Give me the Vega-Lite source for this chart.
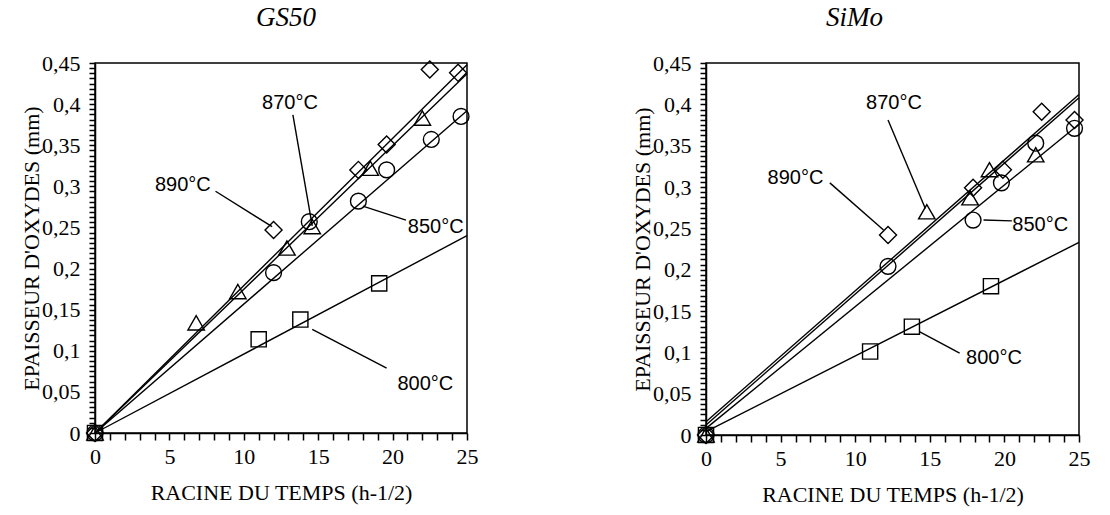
{
  "$schema": "https://vega.github.io/schema/vega-lite/v6.json",
  "background": "white",
  "padding": {"left": 19, "top": 3, "right": 5, "bottom": 5},
  "spacing": 151,
  "datasets": {
    "points": [
      {"panel": "GS50", "temp": "890°C", "x": 0, "y": 0},
      {"panel": "GS50", "temp": "890°C", "x": 12.0, "y": 0.247},
      {"panel": "GS50", "temp": "890°C", "x": 17.7, "y": 0.32},
      {"panel": "GS50", "temp": "890°C", "x": 19.6, "y": 0.351},
      {"panel": "GS50", "temp": "890°C", "x": 22.5, "y": 0.442},
      {"panel": "GS50", "temp": "890°C", "x": 24.4, "y": 0.438},
      {"panel": "GS50", "temp": "870°C", "x": 0, "y": 0},
      {"panel": "GS50", "temp": "870°C", "x": 6.8, "y": 0.134},
      {"panel": "GS50", "temp": "870°C", "x": 9.6, "y": 0.172},
      {"panel": "GS50", "temp": "870°C", "x": 12.9, "y": 0.225},
      {"panel": "GS50", "temp": "870°C", "x": 14.6, "y": 0.251},
      {"panel": "GS50", "temp": "870°C", "x": 18.5, "y": 0.322},
      {"panel": "GS50", "temp": "870°C", "x": 22.0, "y": 0.383},
      {"panel": "GS50", "temp": "850°C", "x": 0, "y": 0},
      {"panel": "GS50", "temp": "850°C", "x": 12.0, "y": 0.195},
      {"panel": "GS50", "temp": "850°C", "x": 14.4, "y": 0.257},
      {"panel": "GS50", "temp": "850°C", "x": 17.7, "y": 0.282},
      {"panel": "GS50", "temp": "850°C", "x": 19.6, "y": 0.32},
      {"panel": "GS50", "temp": "850°C", "x": 22.6, "y": 0.357},
      {"panel": "GS50", "temp": "850°C", "x": 24.6, "y": 0.385},
      {"panel": "GS50", "temp": "800°C", "x": 0, "y": 0},
      {"panel": "GS50", "temp": "800°C", "x": 11.0, "y": 0.114},
      {"panel": "GS50", "temp": "800°C", "x": 13.8, "y": 0.138},
      {"panel": "GS50", "temp": "800°C", "x": 19.1, "y": 0.182},
      {"panel": "SiMo", "temp": "890°C", "x": 0, "y": 0},
      {"panel": "SiMo", "temp": "890°C", "x": 12.2, "y": 0.242},
      {"panel": "SiMo", "temp": "890°C", "x": 17.9, "y": 0.299},
      {"panel": "SiMo", "temp": "890°C", "x": 19.9, "y": 0.321},
      {"panel": "SiMo", "temp": "890°C", "x": 22.5, "y": 0.391},
      {"panel": "SiMo", "temp": "890°C", "x": 24.7, "y": 0.381},
      {"panel": "SiMo", "temp": "870°C", "x": 0, "y": 0},
      {"panel": "SiMo", "temp": "870°C", "x": 14.8, "y": 0.27},
      {"panel": "SiMo", "temp": "870°C", "x": 17.7, "y": 0.287},
      {"panel": "SiMo", "temp": "870°C", "x": 19.0, "y": 0.321},
      {"panel": "SiMo", "temp": "870°C", "x": 22.1, "y": 0.339},
      {"panel": "SiMo", "temp": "850°C", "x": 0, "y": 0},
      {"panel": "SiMo", "temp": "850°C", "x": 12.2, "y": 0.204},
      {"panel": "SiMo", "temp": "850°C", "x": 17.9, "y": 0.26},
      {"panel": "SiMo", "temp": "850°C", "x": 19.8, "y": 0.305},
      {"panel": "SiMo", "temp": "850°C", "x": 22.1, "y": 0.353},
      {"panel": "SiMo", "temp": "850°C", "x": 24.7, "y": 0.371},
      {"panel": "SiMo", "temp": "800°C", "x": 0, "y": 0},
      {"panel": "SiMo", "temp": "800°C", "x": 11.0, "y": 0.101},
      {"panel": "SiMo", "temp": "800°C", "x": 13.8, "y": 0.131},
      {"panel": "SiMo", "temp": "800°C", "x": 19.1, "y": 0.18}
    ],
    "fits": [
      {"panel": "GS50", "temp": "890°C", "x": 0, "y": 0},
      {"panel": "GS50", "temp": "890°C", "x": 25, "y": 0.448},
      {"panel": "GS50", "temp": "870°C", "x": 0, "y": 0},
      {"panel": "GS50", "temp": "870°C", "x": 25, "y": 0.437},
      {"panel": "GS50", "temp": "850°C", "x": 0, "y": 0},
      {"panel": "GS50", "temp": "850°C", "x": 25, "y": 0.392},
      {"panel": "GS50", "temp": "800°C", "x": 0, "y": 0},
      {"panel": "GS50", "temp": "800°C", "x": 25, "y": 0.24},
      {"panel": "SiMo", "temp": "890°C", "x": 0, "y": 0.016},
      {"panel": "SiMo", "temp": "890°C", "x": 25, "y": 0.412},
      {"panel": "SiMo", "temp": "870°C", "x": 0, "y": 0.012},
      {"panel": "SiMo", "temp": "870°C", "x": 25, "y": 0.408},
      {"panel": "SiMo", "temp": "850°C", "x": 0, "y": 0.008},
      {"panel": "SiMo", "temp": "850°C", "x": 25, "y": 0.376},
      {"panel": "SiMo", "temp": "800°C", "x": 0, "y": 0.004},
      {"panel": "SiMo", "temp": "800°C", "x": 25, "y": 0.233}
    ],
    "labels": [
      {"panel": "GS50", "text": "870°C", "x": 13.1, "y": 0.401},
      {"panel": "GS50", "text": "890°C", "x": 5.9, "y": 0.302},
      {"panel": "GS50", "text": "850°C", "x": 22.9, "y": 0.251},
      {"panel": "GS50", "text": "800°C", "x": 22.2, "y": 0.059},
      {"panel": "SiMo", "text": "870°C", "x": 12.6, "y": 0.402},
      {"panel": "SiMo", "text": "890°C", "x": 6.0, "y": 0.311},
      {"panel": "SiMo", "text": "850°C", "x": 22.4, "y": 0.254},
      {"panel": "SiMo", "text": "800°C", "x": 19.3, "y": 0.093}
    ],
    "leaders": [
      {"panel": "GS50", "id": "870", "x": 13.3, "y": 0.387},
      {"panel": "GS50", "id": "870", "x": 14.6, "y": 0.252},
      {"panel": "GS50", "id": "890", "x": 8.1, "y": 0.294},
      {"panel": "GS50", "id": "890", "x": 11.9, "y": 0.251},
      {"panel": "GS50", "id": "850", "x": 18.0, "y": 0.276},
      {"panel": "GS50", "id": "850", "x": 20.9, "y": 0.259},
      {"panel": "GS50", "id": "800", "x": 14.6, "y": 0.126},
      {"panel": "GS50", "id": "800", "x": 19.6, "y": 0.079},
      {"panel": "SiMo", "id": "870", "x": 12.2, "y": 0.381},
      {"panel": "SiMo", "id": "870", "x": 14.7, "y": 0.274},
      {"panel": "SiMo", "id": "890", "x": 8.3, "y": 0.305},
      {"panel": "SiMo", "id": "890", "x": 11.9, "y": 0.248},
      {"panel": "SiMo", "id": "850", "x": 18.6, "y": 0.26},
      {"panel": "SiMo", "id": "850", "x": 20.5, "y": 0.259},
      {"panel": "SiMo", "id": "800", "x": 14.3, "y": 0.125},
      {"panel": "SiMo", "id": "800", "x": 17.0, "y": 0.099}
    ]
  },
  "hconcat": [
    {
      "width": 372,
      "height": 370,
      "title": {"text": "GS50", "font": "Liberation Serif", "fontStyle": "italic", "fontWeight": "normal", "fontSize": 27, "frame": "group", "offset": 20, "dx": 5, "color": "black"},
      "layer": [
        {
          "data": {"name": "fits"},
          "transform": [{"filter": "datum.panel === 'GS50'"}],
          "mark": {"type": "line", "color": "black", "strokeWidth": 1.4},
          "encoding": {
            "x": {"field": "x", "type": "quantitative", "scale": {"domain": [0, 25], "nice": false},
              "axis": {"orient": "bottom", "values": [0,1,2,3,4,5,6,7,8,9,10,11,12,13,14,15,16,17,18,19,20,21,22,23,24,25], "tickCount": 500, "format": "d", "labelExpr": "datum.value % 5 === 0 ? datum.label : ''", "tickSize": 7, "labelPadding": 6, "labelFontSize": 22, "labelFlush": false, "labelOverlap": false, "title": "RACINE DU TEMPS (h-1/2)", "titleFontSize": 22, "titlePadding": 15}},
            "y": {"field": "y", "type": "quantitative", "scale": {"domain": [0, 0.45], "nice": false},
              "axis": {"orient": "left", "values": [0,0.00625,0.0125,0.01875,0.025,0.03125,0.0375,0.04375,0.05,0.05625,0.0625,0.06875,0.075,0.08125,0.0875,0.09375,0.1,0.10625,0.1125,0.11875,0.125,0.13125,0.1375,0.14375,0.15,0.15625,0.1625,0.16875,0.175,0.18125,0.1875,0.19375,0.2,0.20625,0.2125,0.21875,0.225,0.23125,0.2375,0.24375,0.25,0.25625,0.2625,0.26875,0.275,0.28125,0.2875,0.29375,0.3,0.30625,0.3125,0.31875,0.325,0.33125,0.3375,0.34375,0.35,0.35625,0.3625,0.36875,0.375,0.38125,0.3875,0.39375,0.4,0.40625,0.4125,0.41875,0.425,0.43125,0.4375,0.44375,0.45], "tickCount": 500, "format": "~g", "labelExpr": "abs(datum.value * 20 - round(datum.value * 20)) < 0.001 ? replace(datum.label, '.', ',') : ''", "tickSize": 6, "labelPadding": 9, "labelFontSize": 22, "labelFlush": false, "labelOverlap": false, "title": "EPAISSEUR D'OXYDES (mm)", "titleFontSize": 22, "titlePadding": -2}},
            "detail": {"field": "temp"}
          }
        },
        {
          "data": {"name": "leaders"},
          "transform": [{"filter": "datum.panel === 'GS50'"}],
          "mark": {"type": "line", "color": "black", "strokeWidth": 1.4},
          "encoding": {
            "x": {"field": "x", "type": "quantitative"},
            "y": {"field": "y", "type": "quantitative"},
            "detail": {"field": "id"}
          }
        },
        {
          "data": {"name": "labels"},
          "transform": [{"filter": "datum.panel === 'GS50'"}],
          "mark": {"type": "text", "font": "Liberation Sans", "fontSize": 20, "color": "black", "align": "center", "baseline": "middle"},
          "encoding": {
            "x": {"field": "x", "type": "quantitative"},
            "y": {"field": "y", "type": "quantitative"},
            "text": {"field": "text"}
          }
        },
        {
          "data": {"name": "points"},
          "transform": [{"filter": "datum.panel === 'GS50'"}],
          "mark": {"type": "point", "filled": false, "color": "black", "strokeWidth": 1.4, "opacity": 1},
          "encoding": {
            "x": {"field": "x", "type": "quantitative"},
            "y": {"field": "y", "type": "quantitative"},
            "shape": {"field": "temp", "scale": {"domain": ["890°C", "870°C", "850°C", "800°C"], "range": ["diamond", "triangle-up", "circle", "square"]}, "legend": null},
            "size": {"field": "temp", "scale": {"domain": ["890°C", "870°C", "850°C", "800°C"], "range": [290, 230, 210, 250]}, "legend": null}
          }
        }
      ]
    },
    {
      "width": 373,
      "height": 372,
      "title": {"text": "SiMo", "font": "Liberation Serif", "fontStyle": "italic", "fontWeight": "normal", "fontSize": 27, "frame": "group", "offset": 20, "dx": -38, "color": "black"},
      "layer": [
        {
          "data": {"name": "fits"},
          "transform": [{"filter": "datum.panel === 'SiMo'"}],
          "mark": {"type": "line", "color": "black", "strokeWidth": 1.4},
          "encoding": {
            "x": {"field": "x", "type": "quantitative", "scale": {"domain": [0, 25], "nice": false},
              "axis": {"orient": "bottom", "values": [0,1,2,3,4,5,6,7,8,9,10,11,12,13,14,15,16,17,18,19,20,21,22,23,24,25], "tickCount": 500, "format": "d", "labelExpr": "datum.value % 5 === 0 ? datum.label : ''", "tickSize": 7, "labelPadding": 6, "labelFontSize": 22, "labelFlush": false, "labelOverlap": false, "title": "RACINE DU TEMPS (h-1/2)", "titleFontSize": 22, "titlePadding": 15}},
            "y": {"field": "y", "type": "quantitative", "scale": {"domain": [0, 0.45], "nice": false},
              "axis": {"orient": "left", "values": [0,0.00625,0.0125,0.01875,0.025,0.03125,0.0375,0.04375,0.05,0.05625,0.0625,0.06875,0.075,0.08125,0.0875,0.09375,0.1,0.10625,0.1125,0.11875,0.125,0.13125,0.1375,0.14375,0.15,0.15625,0.1625,0.16875,0.175,0.18125,0.1875,0.19375,0.2,0.20625,0.2125,0.21875,0.225,0.23125,0.2375,0.24375,0.25,0.25625,0.2625,0.26875,0.275,0.28125,0.2875,0.29375,0.3,0.30625,0.3125,0.31875,0.325,0.33125,0.3375,0.34375,0.35,0.35625,0.3625,0.36875,0.375,0.38125,0.3875,0.39375,0.4,0.40625,0.4125,0.41875,0.425,0.43125,0.4375,0.44375,0.45], "tickCount": 500, "format": "~g", "labelExpr": "abs(datum.value * 20 - round(datum.value * 20)) < 0.001 ? replace(datum.label, '.', ',') : ''", "tickSize": 6, "labelPadding": 9, "labelFontSize": 22, "labelFlush": false, "labelOverlap": false, "title": "EPAISSEUR D'OXYDES (mm)", "titleFontSize": 22, "titlePadding": -2}},
            "detail": {"field": "temp"}
          }
        },
        {
          "data": {"name": "leaders"},
          "transform": [{"filter": "datum.panel === 'SiMo'"}],
          "mark": {"type": "line", "color": "black", "strokeWidth": 1.4},
          "encoding": {
            "x": {"field": "x", "type": "quantitative"},
            "y": {"field": "y", "type": "quantitative"},
            "detail": {"field": "id"}
          }
        },
        {
          "data": {"name": "labels"},
          "transform": [{"filter": "datum.panel === 'SiMo'"}],
          "mark": {"type": "text", "font": "Liberation Sans", "fontSize": 20, "color": "black", "align": "center", "baseline": "middle"},
          "encoding": {
            "x": {"field": "x", "type": "quantitative"},
            "y": {"field": "y", "type": "quantitative"},
            "text": {"field": "text"}
          }
        },
        {
          "data": {"name": "points"},
          "transform": [{"filter": "datum.panel === 'SiMo'"}],
          "mark": {"type": "point", "filled": false, "color": "black", "strokeWidth": 1.4, "opacity": 1},
          "encoding": {
            "x": {"field": "x", "type": "quantitative"},
            "y": {"field": "y", "type": "quantitative"},
            "shape": {"field": "temp", "scale": {"domain": ["890°C", "870°C", "850°C", "800°C"], "range": ["diamond", "triangle-up", "circle", "square"]}, "legend": null},
            "size": {"field": "temp", "scale": {"domain": ["890°C", "870°C", "850°C", "800°C"], "range": [290, 230, 210, 250]}, "legend": null}
          }
        }
      ]
    }
  ],
  "config": {
    "view": {"stroke": "black", "strokeWidth": 1.5},
    "axis": {"grid": false, "domainColor": "black", "domainWidth": 1.5, "tickColor": "black", "tickWidth": 1.5, "labelColor": "black", "titleColor": "black", "labelFont": "Liberation Serif", "titleFont": "Liberation Serif", "titleFontWeight": "normal"}
  }
}
